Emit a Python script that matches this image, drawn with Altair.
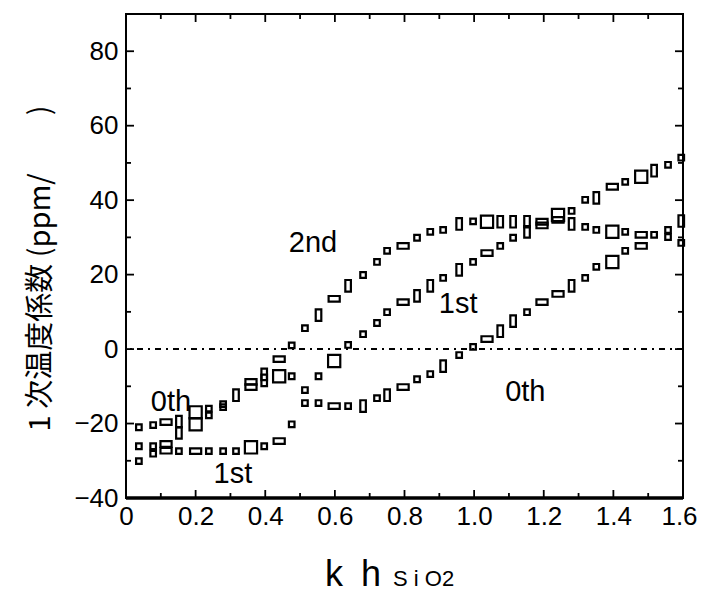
import altair as alt
import pandas as pd

# ---- data (kh_SiO2, 1st-order TCF ppm/°C) ----
kh = [0.037, 0.078, 0.115, 0.152, 0.200, 0.238, 0.279, 0.316, 0.359, 0.397,
      0.440, 0.476, 0.514, 0.553, 0.598, 0.638, 0.681, 0.721, 0.750, 0.796,
      0.836, 0.874, 0.911, 0.957, 0.997, 1.037, 1.075, 1.112, 1.152, 1.195,
      1.241, 1.280, 1.319, 1.351, 1.397, 1.434, 1.480, 1.517, 1.557, 1.595]

upper_tcf = [-21.0, -20.4, -19.6, -19.5, -17.0, -16.0, -14.8, -12.4, -8.8, -6.8,
             -2.7, 1.0, 5.6, 9.1, 13.5, 17.0, 19.9, 23.4, 26.4, 27.7,
             29.9, 31.5, 32.0, 33.6, 34.3, 34.2, 34.2, 34.2, 34.2, 34.2,
             36.0, 37.1, 40.1, 40.6, 43.6, 44.9, 46.3, 47.9, 49.5, 51.4]
upper_box = ["s", "s", "w", "t", "b", "s", "s", "t", "w", "t",
             "w", "s", "s", "t", "w", "t", "s", "s", "s", "w",
             "s", "s", "s", "t", "s", "b", "t", "t", "t", "w",
             "b", "s", "s", "t", "w", "s", "b", "t", "s", "s"]

middle_tcf = [-26.1, -26.1, -25.5, -22.5, -20.2, -17.8, -15.6, None, -10.2, -8.4,
              -7.3, -7.3, -11.0, -7.3, -3.2, 1.1, 4.0, 7.0, 9.9, 12.6,
              14.3, 17.0, 19.1, 21.3, 23.4, 25.8, 27.7, 29.9, 31.5, 33.2,
              34.7, 33.6, 32.8, 32.0, 31.5, 31.5, 30.7, 30.7, 32.0, 34.4]
middle_box = ["s", "s", "w", "t", "b", "s", "s", "s", "w", "t",
              "b", "s", "s", "s", "b", "s", "s", "s", "s", "w",
              "t", "t", "s", "t", "s", "w", "s", "s", "t", "w",
              "w", "t", "s", "s", "b", "s", "w", "s", "s", "t"]

lower_tcf = [-30.1, -28.1, -27.3, -27.4, -27.4, -27.4, -27.4, -27.4, -26.4, -26.1,
             -24.7, -20.2, -14.5, -14.5, -15.3, -15.3, -15.3, -13.2, -12.4, -10.2,
             -8.1, -6.7, -4.6, -1.6, 0.6, 2.7, 4.8, 7.5, 9.9, 12.6,
             14.8, 17.0, 19.1, 22.1, 23.4, 26.4, 27.7, None, 30.1, 28.5]
lower_box = ["s", "s", "w", "s", "w", "s", "s", "s", "b", "s",
             "w", "s", "s", "s", "w", "s", "t", "s", "t", "w",
             "s", "s", "t", "s", "s", "w", "t", "t", "s", "w",
             "w", "t", "s", "s", "b", "s", "w", "s", "s", "s"]

# half extents of the plotted boxes (kh, ppm) by box type
box_half = {"s": (0.0080, 0.75), "t": (0.0080, 1.55),
            "w": (0.0160, 0.75), "b": (0.0175, 1.65)}

label_text = ["0th", "1st", "2nd", "1st", "0th"]
label_kh = [0.129, 0.307, 0.537, 0.954, 1.147]
label_tcf = [-14.3, -33.6, 28.5, 12.1, -11.6]

y_major = [-20, 0, 20, 40, 60, 80]
y_minor = [-30, -10, 10, 30, 50, 70]
x_major = [0.2, 0.4, 0.6, 0.8, 1.0, 1.2, 1.4]
x_minor = [0.1, 0.3, 0.5, 0.7, 0.9, 1.1, 1.3, 1.5]
y_labels = [-40, -20, 0, 20, 40, 60, 80]
x_labels = [0, 0.2, 0.4, 0.6, 0.8, 1.0, 1.2, 1.4, 1.6]

W, H = 557, 484
LBIG, LSMALL = 8, 5

rows = []
for name, ys, boxes in [("upper", upper_tcf, upper_box),
                        ("middle", middle_tcf, middle_box),
                        ("lower", lower_tcf, lower_box)]:
    for x, y, b in zip(kh, ys, boxes):
        if y is None:
            continue
        hx, hy = box_half[b]
        rows.append({"kh": x, "tcf": y, "series": name, "ex": hx, "ey": hy})
df = pd.DataFrame(rows)

xscale = alt.Scale(domain=[0, 1.6], nice=False, zero=False)
yscale = alt.Scale(domain=[-40, 90], nice=False, zero=False)

points = alt.Chart(df).transform_calculate(
    x1="datum.kh - datum.ex", x2="datum.kh + datum.ex",
    y1="datum.tcf - datum.ey", y2="datum.tcf + datum.ey",
).mark_rect(filled=False, color="black", strokeWidth=2.2).encode(
    x=alt.X("x1:Q", scale=xscale,
            axis=alt.Axis(values=x_labels, title=None, tickSize=0, domain=False, grid=False,
                          labelPadding=5, labelFlush=False,
                          labelOffset={"condition": {"test": "datum.value >= 1.6", "value": -4},
                                       "value": 0},
                          labelExpr="datum.value == 0 ? '0' : format(datum.value, '.1f')")),
    x2="x2:Q",
    y=alt.Y("y1:Q", scale=yscale,
            axis=alt.Axis(values=y_labels, tickSize=0, domain=False, grid=False,
                          labelPadding=8, labelFlush=False,
                          title="1 次温度係数 (ppm/\u3000\u3000)",
                          titleFont="Noto Sans CJK JP", titleFontSize=29,
                          titleFontWeight="normal", titleAngle=270,
                          titleX=-86, titleY=254, titleAlign="center",
                          titleBaseline="middle")),
    y2="y2:Q",
)

zero_line = alt.Chart(pd.DataFrame({"v": [0]})).mark_rule(
    color="black", strokeWidth=2, strokeDash=[6, 5, 2, 5]
).encode(y=alt.Y("v:Q", scale=yscale))

bottom_line = alt.Chart(pd.DataFrame({"v": [-40]})).mark_rule(
    color="black", strokeWidth=3.5
).encode(y=alt.Y("v:Q", scale=yscale))


def yticks(vals, length):
    d = pd.DataFrame({"v": vals})
    left = alt.Chart(d).mark_rule(color="black", strokeWidth=1.8).encode(
        y=alt.Y("v:Q", scale=yscale), x=alt.value(0), x2=alt.value(length))
    right = alt.Chart(d).mark_rule(color="black", strokeWidth=1.8).encode(
        y=alt.Y("v:Q", scale=yscale), x=alt.value(W - length), x2=alt.value(W))
    return [left, right]


def xticks(vals, length):
    d = pd.DataFrame({"v": vals})
    bottom = alt.Chart(d).mark_rule(color="black", strokeWidth=1.8).encode(
        x=alt.X("v:Q", scale=xscale), y=alt.value(H - length), y2=alt.value(H))
    top = alt.Chart(d).mark_rule(color="black", strokeWidth=1.8).encode(
        x=alt.X("v:Q", scale=xscale), y=alt.value(0), y2=alt.value(length))
    return [bottom, top]


ticks = yticks(y_major, LBIG) + yticks(y_minor, LSMALL) + xticks(x_major, LBIG) + xticks(x_minor, LSMALL)

labels = alt.Chart(pd.DataFrame({"kh": label_kh, "tcf": label_tcf, "t": label_text})).mark_text(
    font="Liberation Sans", fontSize=29, color="black", align="center", baseline="middle"
).encode(x=alt.X("kh:Q", scale=xscale),
         y=alt.Y("tcf:Q", scale=yscale), text="t:N")

xtitle_main = alt.Chart(pd.DataFrame({"t": ["k\u2002h"]})).mark_text(
    font="Liberation Sans", fontSize=36, color="black", align="left", baseline="alphabetic"
).encode(x=alt.value(199), y=alt.value(572), text="t:N")

xtitle_sub = alt.Chart(pd.DataFrame({"t": ["S\u00a0i\u00a0O2"]})).mark_text(
    font="Liberation Sans", fontSize=22, color="black", align="left", baseline="alphabetic"
).encode(x=alt.value(267), y=alt.value(572), text="t:N")

chart = alt.layer(
    points, zero_line, bottom_line, *ticks, labels, xtitle_main, xtitle_sub
).properties(
    width=W, height=H,
    autosize=alt.AutoSizeParams(type="none"),
    padding={"left": 118, "top": 6, "right": 15, "bottom": 96},
).configure_view(
    stroke="black", strokeWidth=2
).configure_axis(
    labelFont="Liberation Sans", labelFontSize=26, labelColor="black"
)

chart.save("out.html", embed_options={"renderer": "svg", "actions": False})
